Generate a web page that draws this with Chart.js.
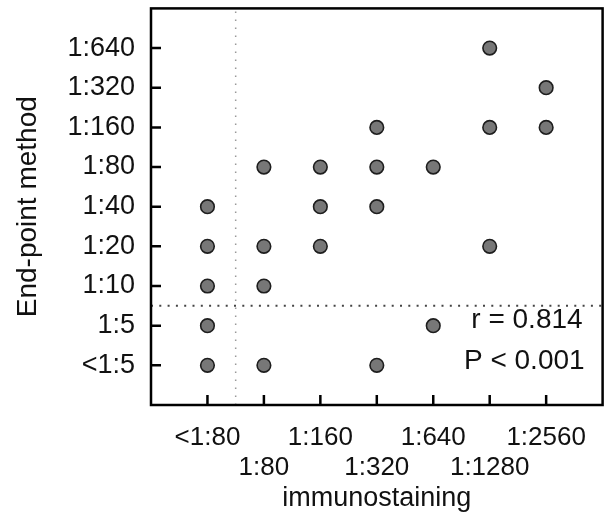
<!DOCTYPE html>
<html>
<head>
<meta charset="utf-8">
<script src="https://cdn.jsdelivr.net/npm/chart.js@4"></script>
<style>
  html, body { margin: 0; padding: 0; background: #fff; }
  #wrap { width: 611px; height: 519px; }
</style>
</head>
<body>
<div id="wrap"><canvas id="titerChart" width="611" height="519"></canvas></div>
<script>
// Titer categories for each method
const immunoLabels = ['<1:80', '1:80', '1:160', '1:320', '1:640', '1:1280', '1:2560'];
const endpointLabels = ['<1:5', '1:5', '1:10', '1:20', '1:40', '1:80', '1:160', '1:320', '1:640'];

// Each sample: [immunostaining titer, end-point titer]
const samples = [
    ['<1:80', '1:40'], ['<1:80', '1:20'], ['<1:80', '1:10'], ['<1:80', '1:5'], ['<1:80', '<1:5'],
    ['1:80', '1:80'], ['1:80', '1:20'], ['1:80', '1:10'], ['1:80', '<1:5'],
    ['1:160', '1:80'], ['1:160', '1:40'], ['1:160', '1:20'],
    ['1:320', '1:160'], ['1:320', '1:80'], ['1:320', '1:40'], ['1:320', '<1:5'],
    ['1:640', '1:80'], ['1:640', '1:5'],
    ['1:1280', '1:640'], ['1:1280', '1:160'], ['1:1280', '1:20'],
    ['1:2560', '1:320'], ['1:2560', '1:160']
];

// Cut-off positions (between categories)
const immunoCutoff = 0.5;
const endpointCutoff = 1.5;

const statLines = ['r = 0.814', 'P < 0.001'];

const FONT = "'Liberation Sans', Arial, Helvetica, sans-serif";

const points = samples.map(function(s) {
    return { x: immunoLabels.indexOf(s[0]), y: endpointLabels.indexOf(s[1]) };
});

// Box, inward ticks and statistics text
const framePlugin = {
    id: 'frame',
    afterDraw: function(chart) {
        const ctx = chart.ctx;
        const area = chart.chartArea;
        const xs = chart.scales.x;
        const ys = chart.scales.y;
        ctx.save();
        ctx.strokeStyle = '#000';
        ctx.lineWidth = 2.5;
        ctx.strokeRect(area.left, area.top, area.right - area.left, area.bottom - area.top);

        ctx.lineWidth = 2.5;
        ctx.beginPath();
        immunoLabels.forEach(function(l, i) {
            const px = xs.getPixelForValue(i);
            ctx.moveTo(px, area.bottom);
            ctx.lineTo(px, area.bottom - 10);
        });
        endpointLabels.forEach(function(l, i) {
            const py = ys.getPixelForValue(i);
            ctx.moveTo(area.left, py);
            ctx.lineTo(area.left + 10, py);
        });
        ctx.stroke();

        ctx.fillStyle = '#111';
        ctx.font = '28px ' + FONT;
        ctx.textAlign = 'right';
        ctx.textBaseline = 'middle';
        ctx.fillText(statLines[0], area.right - 20, 320);
        ctx.fillText(statLines[1], area.right - 18, 361);
        ctx.restore();
    }
};

function noEdgePadding(scale) {
    scale.paddingTop = 0;
    scale.paddingBottom = 0;
    scale.paddingLeft = 0;
    scale.paddingRight = 0;
}

const ctx = document.getElementById('titerChart').getContext('2d');
const titerChart = new Chart(ctx, {
    type: 'scatter',
    data: {
        datasets: [
            {
                data: points,
                backgroundColor: '#777',
                borderColor: '#1e1e1e',
                borderWidth: 1.6,
                pointRadius: 6.8,
                pointHoverRadius: 6.8
            },
            {
                type: 'line',
                data: [{ x: immunoCutoff, y: -1 }, { x: immunoCutoff, y: endpointLabels.length }],
                borderColor: '#999',
                borderWidth: 1.5,
                borderDash: [1.5, 6.5],
                pointRadius: 0,
                fill: false
            },
            {
                type: 'line',
                data: [{ x: -1, y: endpointCutoff }, { x: immunoLabels.length, y: endpointCutoff }],
                borderColor: '#444',
                borderWidth: 2,
                borderDash: [2, 6.3],
                pointRadius: 0,
                fill: false
            }
        ]
    },
    options: {
        responsive: false,
        animation: false,
        layout: { padding: { top: 7, right: 5, left: 0, bottom: 0 } },
        plugins: {
            legend: { display: false },
            tooltip: { enabled: false }
        },
        scales: {
            x: {
                type: 'linear',
                min: -1,
                max: immunoLabels.length,
                grid: { display: false, drawTicks: false },
                border: { display: false },
                afterBuildTicks: function(scale) {
                    scale.ticks = immunoLabels.map(function(l, i) { return { value: i }; });
                },
                afterFit: function(scale) {
                    scale.height = 114;
                    noEdgePadding(scale);
                },
                ticks: {
                    autoSkip: false,
                    maxRotation: 0,
                    padding: 18,
                    color: '#111',
                    font: { family: FONT, size: 26, lineHeight: 1.16 },
                    callback: function(value) {
                        const label = immunoLabels[value];
                        return value % 2 === 0 ? [label] : ['', label];
                    }
                },
                title: {
                    display: true,
                    text: 'immunostaining',
                    color: '#111',
                    font: { family: FONT, size: 27, lineHeight: 1.2 },
                    padding: { top: 0, bottom: 4 }
                }
            },
            y: {
                type: 'linear',
                min: -1,
                max: endpointLabels.length,
                grid: { display: false, drawTicks: false },
                border: { display: false },
                afterBuildTicks: function(scale) {
                    scale.ticks = endpointLabels.map(function(l, i) { return { value: i }; });
                },
                afterFit: function(scale) {
                    scale.width = 151;
                    noEdgePadding(scale);
                },
                ticks: {
                    autoSkip: false,
                    padding: 16,
                    color: '#111',
                    font: { family: FONT, size: 27 },
                    callback: function(value) { return endpointLabels[value]; }
                },
                title: {
                    display: true,
                    text: 'End-point method',
                    color: '#111',
                    font: { family: FONT, size: 28, lineHeight: 1.2 },
                    padding: { top: 11, bottom: 0 }
                }
            }
        }
    },
    plugins: [framePlugin]
});
</script>
</body>
</html>
